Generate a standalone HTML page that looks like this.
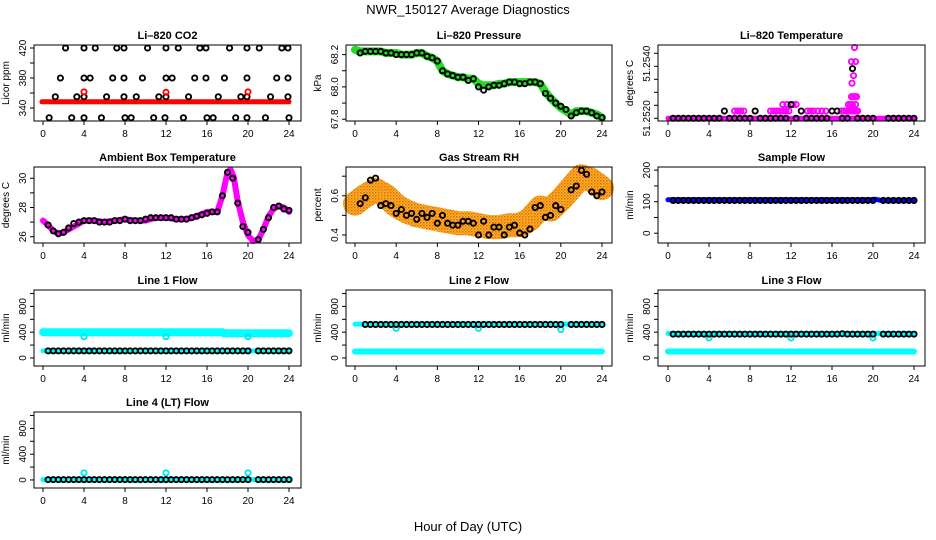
<!DOCTYPE html>
<html><head><meta charset="utf-8"><style>
html,body{margin:0;padding:0;background:#fff;}
svg{display:block;font-family:"Liberation Sans",sans-serif;}
</style></head><body>
<svg id="chart" width="936" height="540" viewBox="0 0 936 540">
<defs>
<pattern id="dither" width="3" height="3" patternUnits="userSpaceOnUse">
<rect width="3" height="3" fill="#f7c020"/>
<rect width="1.5" height="1.5" fill="#ee5a10"/>
<rect x="1.5" y="1.5" width="1.5" height="1.5" fill="#f08a20"/>
</pattern>
</defs>
<text x="468" y="14" text-anchor="middle" font-size="13">NWR_150127  Average Diagnostics</text>
<text x="468" y="531" text-anchor="middle" font-size="13">Hour of Day (UTC)</text>
</svg>
<script>
// ---------- data ----------
const xTicks = [0,4,8,12,16,20,24];
const halfHours = [0.5,1,1.5,2,2.5,3,3.5,4,4.5,5,5.5,6,6.5,7,7.5,8,8.5,9,9.5,10,10.5,11,11.5,12,12.5,13,13.5,14,14.5,15,15.5,16,16.5,17,17.5,18,18.5,19,19.5,20,20.5,21,21.5,22,22.5,23,23.5,24];

// CO2
const co2Hours = [2.2,4.0,5.1,7.2,7.9,10.2,12.0,13.2,15.3,15.9,18.2,19.9,21.1,23.3,23.9, 1.7,4.0,4.6,6.8,7.9,9.7,12.0,12.6,14.8,15.9,17.7,19.9,22.8,23.9, 1.2,3.3,4.0,6.2,7.9,9.1,11.3,12.0,14.2,17.1,19.3,19.9,22.2,23.9, 0.6,2.8,4.0,5.7,8.0,8.6,10.8,11.9,13.7,16.0,16.6,18.8,19.9,21.7,24.0];
const co2Values = [420,420,420,420,420,420,420,420,420,420,420,420,420,420,420, 380,380,380,380,380,380,380,380,380,380,380,380,380,380, 355,355,355,355,355,355,355,355,355,355,355,355,355,355, 327,327,327,327,327,327,327,327,327,327,327,327,327,327,327];
const co2RedLineHours = [-0.1,24];
const co2RedLineValues = [348.3,348.3];
const co2RedOutHours = [4,12,20];
const co2RedOutValues = [361.5,361,361.5];

// Pressure
const pressGreenHours = [0,0.5,1,1.5,2,2.5,3,3.5,4,4.5,5,5.5,6,6.5,7,7.5,8,8.5,9,9.5,10,10.5,11,11.5,12,12.5,13,13.5,14,14.5,15,15.5,16,16.5,17,17.5,18,18.5,19,19.5,20,20.5,21,21.5,22,22.5,23,23.5,24];
const pressGreenValues = [68.23,68.22,68.22,68.22,68.22,68.22,68.21,68.21,68.21,68.2,68.2,68.2,68.21,68.21,68.19,68.18,68.16,68.1,68.08,68.07,68.06,68.06,68.05,68.05,68.02,68.01,68.01,68.01,68.02,68.02,68.03,68.03,68.03,68.03,68.03,68.03,68.02,67.97,67.93,67.9,67.87,67.85,67.83,67.85,67.85,67.85,67.84,67.83,67.81];
const pressBlack = [68.21,68.22,68.22,68.22,68.22,68.21,68.21,68.2,68.2,68.2,68.2,68.21,68.21,68.19,68.18,68.16,68.1,68.08,68.07,68.06,68.06,68.04,68.05,68.0,67.98,68.0,68.01,68.01,68.02,68.03,68.03,68.02,68.02,68.03,68.03,68.02,67.96,67.93,67.9,67.88,67.86,67.82,67.84,67.85,67.85,67.84,67.82,67.81];

// Li-820 temperature
const ltBlack = [51.252,51.252,51.252,51.252,51.252,51.252,51.252,51.252,51.252,51.252,51.25228,51.252,51.252,51.252,51.252,51.252,51.25228,51.252,51.252,51.252,51.252,51.252,51.252,51.25253,51.252,51.25228,51.252,51.252,51.252,51.252,51.252,51.25228,51.25228,51.252,51.252,51.25391,51.252,51.252,51.252,51.252,null,null,51.252,51.252,51.252,51.252,51.252,51.252];
const ltMagBaseHours = [0,24];
const ltMagBaseValues = [51.252,51.252];
const ltMagHours = [6.5,6.8,7.1,7.4,10,10.3,10.6,10.9,11.2,11.5,11.8,11.2,11.6,12.2,12.5,13.6,13.9,14.2,14.6,15.0,15.4,16.9,17.2,17.4,17.6,17.8,18.0,18.2,18.4,18.5,17.6,17.8,18.0,18.3,17.9,18.0,18.2,18.3,18.4,17.95,18.1,18.3,17.9,18.2];
const ltMagValues = [51.25228,51.25228,51.25228,51.25228,51.25228,51.25228,51.25228,51.25228,51.25228,51.25228,51.25228,51.25253,51.25253,51.25253,51.25253,51.25228,51.25228,51.25228,51.25228,51.25228,51.25228,51.25228,51.25228,51.25228,51.25228,51.25228,51.25228,51.25228,51.25228,51.25228,51.25253,51.25253,51.25253,51.25253,51.25283,51.25283,51.25283,51.25283,51.25283,51.25335,51.25364,51.25418,51.25418,51.25472];

// Ambient box temperature
const ambHours = [0,0.5,1,1.5,2,2.5,3,3.5,4,5,6,7,8,9,10,11,12,13,14,15,16,17,17.5,18,18.3,18.6,19,19.5,20,20.5,21,21.5,22,22.5,23,23.5,24];
const ambValues = [27.1,26.8,26.4,26.2,26.3,26.5,26.7,26.9,27.1,27.1,27.0,27.1,27.2,27.1,27.1,27.3,27.3,27.2,27.2,27.4,27.7,27.7,28.8,30.4,30.6,30.1,28.4,27.0,26.1,25.7,25.8,26.5,27.4,27.9,28.1,28.0,27.7];
const ambBlack = [26.8,26.4,26.2,26.3,26.6,26.9,27.0,27.1,27.1,27.1,27.0,27.0,27.0,27.1,27.1,27.2,27.1,27.1,27.1,27.2,27.3,27.3,27.3,27.3,27.3,27.2,27.2,27.2,27.3,27.4,27.5,27.6,27.7,27.7,28.8,30.4,30.0,28.3,26.7,26.3,null,25.8,26.5,27.3,28.0,28.1,27.9,27.8];

// Gas stream RH
const rhCloudHours = [0,1,2,3,4,5,6,7,8,9,10,11,12,13,14,15,16,17,18,19,20,21,22,23,24];
const rhCloudValues = [0.56,0.6,0.63,0.6,0.55,0.52,0.5,0.49,0.48,0.47,0.46,0.46,0.45,0.44,0.44,0.45,0.45,0.48,0.54,0.53,0.58,0.64,0.7,0.68,0.64];
const rhBlack = [0.56,0.59,0.68,0.69,0.55,0.56,0.55,0.51,0.53,0.5,0.51,0.48,0.51,0.49,0.51,0.46,0.5,0.46,0.45,0.45,0.47,0.47,0.46,0.4,0.47,0.4,0.44,0.44,0.4,0.44,0.45,0.41,0.4,0.43,0.54,0.55,0.49,0.5,0.55,0.53,null,0.63,0.65,0.73,0.71,0.62,0.6,0.62];

// Sample flow
const sfBlueHours = [0,19.8,20.2,20.8,24];
const sfBlueValues = [106,106,108,104,104];
const sfBlack = [104,104,104,104,104,104,104,104,104,104,104,104,104,104,104,104,104,104,104,104,104,104,104,104,104,104,104,104,104,104,104,104,104,104,104,104,104,104,104,104,null,104,104,104,104,104,104,104];

// Line flows
const l1CyanTopHours = [0,17.5,17.6,24];
const l1CyanTopValues = [400,400,385,385];
const l1CyanLowHours = [0,24];
const l1CyanLowValues = [110,110];
const l1Black = [110,110,110,110,110,110,110,110,110,110,110,110,110,110,110,110,110,110,110,110,110,110,110,110,110,110,110,110,110,110,110,110,110,110,110,110,110,110,110,110,null,110,110,110,110,110,110,110];
const l1OutHours = [4,12,20];
const l1OutValues = [330,330,330];

const l2CyanTopHours = [0,24];
const l2CyanTopValues = [525,525];
const l2CyanLowHours = [0,24];
const l2CyanLowValues = [100,100];
const l2Black = [null,520,520,520,520,520,520,520,520,520,520,520,520,520,520,520,520,520,520,520,520,520,520,520,520,520,520,520,520,520,520,520,520,520,520,520,520,520,520,520,null,520,520,520,520,520,520,520];
const l2OutHours = [4,12,20];
const l2OutValues = [460,460,440];

const l3CyanTopHours = [0,24];
const l3CyanTopValues = [380,380];
const l3CyanLowHours = [0,24];
const l3CyanLowValues = [100,100];
const l3Black = [370,370,370,370,370,370,370,370,370,370,370,370,370,370,370,370,370,370,370,370,370,370,370,370,370,370,370,370,370,370,370,370,370,375,370,370,370,370,370,370,null,370,370,370,370,370,370,370];
const l3OutHours = [4,12,20];
const l3OutValues = [310,310,310];

const l4CyanHours = [0,24];
const l4CyanValues = [5,5];
const l4Black = [5,5,5,5,5,5,5,5,5,5,5,5,5,5,5,5,5,5,5,5,5,5,5,5,5,5,5,5,5,5,5,5,5,5,5,5,5,5,5,5,null,5,5,5,5,5,5,5];
const l4OutHours = [4,12,20];
const l4OutValues = [110,110,110];

// ---------- drawing ----------
const NS = "http://www.w3.org/2000/svg";
const svg = document.getElementById('chart');
const cols = [{L:34,R:301,x0:43,x24:289},{L:346,R:612,x0:355,x24:602},{L:658,R:925,x0:668,x24:914}];
const rows = [45,167,290,412];
const H = 76;

function mk(tag, attrs, parent){
  const e = document.createElementNS(NS, tag);
  for (const k in attrs) e.setAttribute(k, attrs[k]);
  (parent||svg).appendChild(e);
  return e;
}

function panel(name, title, ylab, c, r, dom, ticks, labels){
  const col = cols[c], top = rows[r], bot = top + H;
  const g = mk('g', {});
  
  
  const sx = h => col.x0 + h * (col.x24 - col.x0) / 24;
  const sy = v => bot - (v - dom[0]) / (dom[1] - dom[0]) * H;
  const t = mk('text', {x:(col.L+col.R)/2, y:top-6, 'text-anchor':'middle', 'font-size':11, 'font-weight':'bold'}, g);
  t.textContent = title;
  
  
  const yl = mk('text', {x:0, y:0, 'text-anchor':'middle', 'font-size':10, transform:`translate(${col.L-25},${top+H/2}) rotate(-90)`}, g);
  yl.textContent = ylab;
  
  
  const xa = mk('g', {}, g);
  
  
  mk('line', {x1:sx(0), x2:sx(24), y1:bot, y2:bot, stroke:'#000'}, xa);
  xTicks.forEach(h => {
    mk('line', {x1:sx(h), x2:sx(h), y1:bot, y2:bot+4, stroke:'#000'}, xa);
    const tl = mk('text', {x:sx(h), y:bot+16, 'text-anchor':'middle', 'font-size':10}, xa);
    tl.textContent = h;
  });
  const ya = mk('g', {}, g);
  
  
  mk('line', {x1:col.L, x2:col.L, y1:sy(ticks[0]), y2:sy(ticks[ticks.length-1]), stroke:'#000'}, ya);
  ticks.forEach(v => mk('line', {x1:col.L-4, x2:col.L, y1:sy(v), y2:sy(v), stroke:'#000'}, ya));
  labels.forEach(l => {
    const tl = mk('text', {x:0, y:0, 'text-anchor':'middle', 'font-size':10, transform:`translate(${col.L-8},${sy(l[0])}) rotate(-90)`}, ya);
    tl.textContent = l[1];
  });
  const plot = mk('g', {}, g);
  
  
  mk('rect', {x:col.L, y:top, width:col.R-col.L, height:H, fill:'none', stroke:'#000'}, g);
  return {sx, sy, plot};
}

function band(p, name, hs, vs, color, w){
  const pts = hs.map((h,i) => p.sx(h).toFixed(1) + ',' + p.sy(vs[i]).toFixed(1)).join(' ');
  const e = mk('polyline', {points:pts, fill:'none', stroke:color, 'stroke-width':w, 'stroke-linejoin':'round', 'stroke-linecap':'round'}, p.plot);
  
  
}
function circles(p, name, hs, vs, color, rr, sw){
  const g = mk('g', {}, p.plot);
  
  
  vs.forEach((v,i) => {
    if (v === null) return;
    mk('circle', {cx:p.sx(hs[i]), cy:p.sy(v), r:rr||2.6, fill:'none', stroke:color, 'stroke-width':sw||1.9}, g);
  });
}

let p = panel('co2', 'Li\u2013820 CO2', 'Licor ppm', 0, 0, [322.7,424], [340,360,380,400,420], [[340,'340'],[380,'380'],[420,'420']]);
band(p, 'co2-red-series', co2RedLineHours, co2RedLineValues, '#ff0000', 5);
circles(p, 'co2-black-points', co2Hours, co2Values, '#000');
circles(p, 'co2-red-outliers', co2RedOutHours, co2RedOutValues, '#ff0000');

p = panel('pressure', 'Li\u2013820 Pressure', 'kPa', 1, 0, [67.789,68.2594], [67.8,67.9,68.0,68.1,68.2], [[67.8,'67.8'],[68.0,'68.0'],[68.2,'68.2']]);
band(p, 'pressure-green-series', pressGreenHours, pressGreenValues, '#22dd22', 8);
circles(p, 'pressure-black-points', halfHours, pressBlack, '#000');

p = panel('li820-temp', 'Li\u2013820 Temperature', 'degrees C', 2, 0, [51.251896,51.254819], [51.252,51.2525,51.253,51.2535,51.254,51.2545], [[51.252,'51.2520'],[51.2541,'51.2540']]);
band(p, 'li820-temp-magenta-baseline', ltMagBaseHours, ltMagBaseValues, '#ff00ff', 5);
circles(p, 'li820-temp-magenta-points', ltMagHours, ltMagValues, '#ff00ff');
circles(p, 'li820-temp-black-points', halfHours, ltBlack, '#000');

p = panel('ambient-temp', 'Ambient Box Temperature', 'degrees C', 0, 1, [25.57,30.77], [26,27,28,29,30], [[26,'26'],[28,'28'],[30,'30']]);
band(p, 'ambient-temp-magenta-series', ambHours, ambValues, '#ff00ff', 6);
circles(p, 'ambient-temp-black-points', halfHours, ambBlack, '#000');

p = panel('rh', 'Gas Stream RH', 'percent', 1, 1, [0.359,0.747], [0.4,0.5,0.6,0.7], [[0.4,'0.4'],[0.6,'0.6']]);
band(p, 'rh-orange-cloud', rhCloudHours, rhCloudValues, 'url(#dither)', 24);
circles(p, 'rh-black-points', halfHours, rhBlack, '#000');

p = panel('sample-flow', 'Sample Flow', 'ml/min', 2, 1, [-31,210], [0,50,100,150,200], [[0,'0'],[100,'100'],[200,'200']]);
band(p, 'sample-flow-blue-series', sfBlueHours, sfBlueValues, '#0000ff', 5);
circles(p, 'sample-flow-black-points', halfHours, sfBlack, '#000');

const flowTicks = [0,200,400,600,800,1000];
const flowLabels = [[0,'0'],[400,'400'],[800,'800']];
p = panel('line1-flow', 'Line 1 Flow', 'ml/min', 0, 2, [-125,1055], flowTicks, flowLabels);
band(p, 'line1-cyan-upper', l1CyanTopHours, l1CyanTopValues, '#00ffff', 8);
band(p, 'line1-cyan-lower', l1CyanLowHours, l1CyanLowValues, '#00ffff', 5);
circles(p, 'line1-cyan-outliers', l1OutHours, l1OutValues, '#00e5ee');
circles(p, 'line1-black-points', halfHours, l1Black, '#000');

p = panel('line2-flow', 'Line 2 Flow', 'ml/min', 1, 2, [-125,1055], flowTicks, flowLabels);
band(p, 'line2-cyan-upper', l2CyanTopHours, l2CyanTopValues, '#00ffff', 5);
band(p, 'line2-cyan-lower', l2CyanLowHours, l2CyanLowValues, '#00ffff', 6);
circles(p, 'line2-cyan-outliers', l2OutHours, l2OutValues, '#00e5ee');
circles(p, 'line2-black-points', halfHours, l2Black, '#000');

p = panel('line3-flow', 'Line 3 Flow', 'ml/min', 2, 2, [-125,1055], flowTicks, flowLabels);
band(p, 'line3-cyan-upper', l3CyanTopHours, l3CyanTopValues, '#00ffff', 5);
band(p, 'line3-cyan-lower', l3CyanLowHours, l3CyanLowValues, '#00ffff', 6);
circles(p, 'line3-cyan-outliers', l3OutHours, l3OutValues, '#00e5ee');
circles(p, 'line3-black-points', halfHours, l3Black, '#000');

p = panel('line4-flow', 'Line 4 (LT) Flow', 'ml/min', 0, 3, [-125,1055], flowTicks, flowLabels);
band(p, 'line4-cyan-series', l4CyanHours, l4CyanValues, '#00ffff', 5);
circles(p, 'line4-cyan-outliers', l4OutHours, l4OutValues, '#00e5ee');
circles(p, 'line4-black-points', halfHours, l4Black, '#000');
</script>
</body></html>
